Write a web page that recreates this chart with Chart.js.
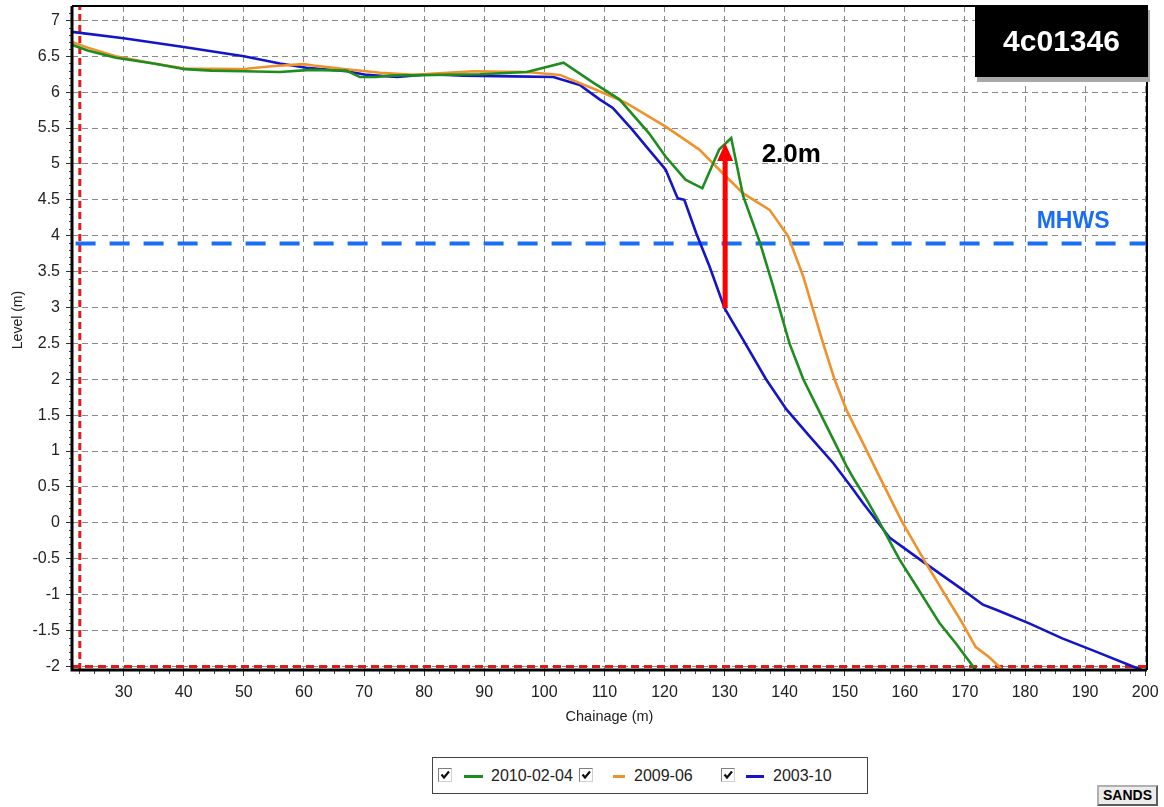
<!DOCTYPE html>
<html lang="en">
  <head>
    <meta charset="UTF-8" />
    <title>4c01346 beach profile</title>
    <script src="https://cdn.jsdelivr.net/npm/chart.js"></script>
    <style>
      body {
        margin: 0;
        background: #ffffff;
        font-family: "Liberation Sans", Arial, sans-serif;
      }
      .wrap {
        position: relative;
        width: 1164px;
        height: 807px;
      }
      canvas {
        display: block;
      }
      .profile-id {
        position: absolute;
        left: 975px;
        top: 5px;
        width: 173px;
        height: 72px;
        background: #000;
        color: #fff;
        font: bold 30px "Liberation Sans", Arial, sans-serif;
        line-height: 72px;
        text-align: center;
        box-shadow: 2px 5px 0 #a8a8a8;
      }
      .legend {
        position: absolute;
        left: 432px;
        top: 757px;
        width: 434px;
        height: 35px;
        border: 1px solid #444;
        background: #fff;
        font-size: 16px;
        color: #222;
      }
      .legend span {
        position: absolute;
      }
      .legend .cb {
        top: 10px;
        width: 12px;
        height: 12px;
        border: 1px solid #808080;
        border-right-color: #d0d0d0;
        border-bottom-color: #d0d0d0;
        background: #fff;
      }
      .legend .cb svg {
        display: block;
      }
      .legend .ln {
        top: 17px;
        height: 3px;
      }
      .legend .tx {
        top: 8px;
        line-height: 19px;
      }
      .sands {
        position: absolute;
        left: 1097px;
        top: 785px;
        width: 57px;
        height: 17px;
        border: 2px outset #b0b0b0;
        background: #ececec;
        font: bold 14px "Liberation Sans", Arial, sans-serif;
        line-height: 17px;
        text-align: center;
      }
    </style>
  </head>
  <body>
    <div class="wrap">
      <canvas id="profileChart" width="1164" height="807"></canvas>
      <div class="profile-id">4c01346</div>
      <div class="legend" id="legend"></div>
      <div class="sands">SANDS</div>
    </div>

    <script>
      const xTicks = [30, 40, 50, 60, 70, 80, 90, 100, 110, 120, 130, 140, 150, 160, 170, 180, 190, 200];
      const yTicks = [-2, -1.5, -1, -0.5, 0, 0.5, 1, 1.5, 2, 2.5, 3, 3.5, 4, 4.5, 5, 5.5, 6, 6.5, 7];

      const seriesNames = ["2010-02-04", "2009-06", "2003-10"];
      const seriesColors = ["#1e8c1e", "#f0922c", "#1414c8"];

      // 2010-02-04
      const chainage2010 = [21.4, 24, 28.7, 35, 40.2, 44.6, 50, 56, 61.1, 67.1, 69.3, 72, 74.3, 89.3, 97.1, 103.2,
        108, 112.5, 117.4, 120.2, 123.5, 126.3, 129.1, 131.1, 133.1, 135.9, 138.1, 140.8, 143.1, 145.3, 148.1,
        150.3, 151.6, 153.6, 155.7, 159.1, 161.9, 165.8, 168.5, 171.8];
      const level2010 = [6.66, 6.58, 6.48, 6.4, 6.32, 6.3, 6.29, 6.28, 6.31, 6.3, 6.21, 6.21, 6.23, 6.25, 6.28, 6.41,
        6.14, 5.9, 5.43, 5.1, 4.78, 4.66, 5.2, 5.36, 4.55, 3.9, 3.29, 2.5, 2.0, 1.63, 1.16,
        0.79, 0.6, 0.33, 0.02, -0.51, -0.88, -1.4, -1.68, -2.05];

      // 2009-06
      const chainage2009 = [21.4, 24, 28.7, 35, 40.2, 49.6, 54.6, 59.9, 61.6, 67.1, 72.7, 78.2, 88.2, 97.1, 102.6,
        108.7, 113.6, 120.2, 125.8, 129.7, 133.1, 137.5, 140.6, 143.1, 146.4, 148.3, 150.3, 153.1, 155.8,
        159.5, 163.5, 166.9, 169.6, 171.8, 174, 176.3];
      const level2009 = [6.7, 6.62, 6.5, 6.4, 6.33, 6.32, 6.36, 6.39, 6.37, 6.32, 6.27, 6.24, 6.29, 6.28, 6.24,
        6.03, 5.85, 5.52, 5.2, 4.87, 4.59, 4.36, 3.99, 3.43, 2.5, 2.0, 1.57, 1.1, 0.64,
        0.02, -0.56, -1.03, -1.4, -1.73, -1.87, -2.05];

      // 2003-10
      const chainage2003 = [21.4, 30, 40, 50, 56, 60.4, 67.1, 70.5, 75.5, 81, 86.6, 94.9, 101.5, 105.9, 109.2,
        111.4, 114.6, 117.4, 120.2, 122.2, 123.3, 125.3, 127.5, 130, 131.1, 133.1, 136.9, 140.3, 144.2,
        148.1, 151, 153, 155.3, 157.5, 163, 169.6, 173, 175.2, 180.7, 186.2, 191.7, 199.4];
      const level2003 = [6.84, 6.75, 6.63, 6.5, 6.4, 6.34, 6.29, 6.24, 6.21, 6.25, 6.23, 6.22, 6.21, 6.1, 5.9,
        5.78, 5.48, 5.2, 4.92, 4.52, 4.5, 4.03, 3.57, 2.99, 2.83, 2.55, 2.0, 1.58, 1.2,
        0.83, 0.51, 0.28, 0.03, -0.21, -0.54, -0.93, -1.14, -1.21, -1.4, -1.61, -1.79, -2.05];

      // reference lines
      const mhwsLevel = 3.89;
      const mhwsRange = [22, 200.3];
      const redVerticalChainage = 22.7;
      const redHorizontalLevel = -2;
      const arrowChainage = 130.1;
      const arrowLevels = [2.99, 5.29];
      const arrowLabel = { text: "2.0m", x: 141.1, y: 5.12 };
      const mhwsLabel = { text: "MHWS", x: 188, y: 4.19 };

      const xMin = 21.4, xMax = 200.3, yMin = -2.05, yMax = 7.2;

      function points(xs, ys) {
        return xs.map((x, i) => ({ x: x, y: ys[i] }));
      }

      const profiles = [
        points(chainage2010, level2010),
        points(chainage2009, level2009),
        points(chainage2003, level2003),
      ];

      const datasets = profiles.map((data, i) => ({
        label: seriesNames[i],
        data: data,
        borderColor: seriesColors[i],
        borderWidth: 2.6,
      }));
      datasets.push({
        label: "MHWS",
        data: points(mhwsRange, [mhwsLevel, mhwsLevel]),
        borderColor: "#1a6ef5",
        borderWidth: 4,
        borderDash: [20, 14],
      });
      datasets.push({
        label: "redV",
        data: points([redVerticalChainage, redVerticalChainage], [yMin, yMax]),
        borderColor: "#dd1c1c",
        borderWidth: 3,
        borderDash: [7, 4],
      });
      datasets.push({
        label: "redH",
        data: points([xMin, xMax], [redHorizontalLevel, redHorizontalLevel]),
        borderColor: "#dd1c1c",
        borderWidth: 3,
        borderDash: [8, 5],
      });

      const font = "Liberation Sans, Arial, sans-serif";

      const decorations = {
        id: "decorations",
        afterDatasetsDraw(chart) {
          const { ctx, scales } = chart;
          const x = scales.x, y = scales.y;
          // arrow
          const ax = x.getPixelForValue(arrowChainage);
          const y0 = y.getPixelForValue(arrowLevels[0]);
          const tip = y.getPixelForValue(arrowLevels[1]);
          ctx.save();
          ctx.strokeStyle = "#ff0000";
          ctx.fillStyle = "#ff0000";
          ctx.lineWidth = 5;
          ctx.beginPath();
          ctx.moveTo(ax, y0);
          ctx.lineTo(ax, tip + 16);
          ctx.stroke();
          ctx.beginPath();
          ctx.moveTo(ax, tip);
          ctx.lineTo(ax - 8, tip + 18);
          ctx.lineTo(ax + 8, tip + 18);
          ctx.closePath();
          ctx.fill();
          // labels
          ctx.textAlign = "center";
          ctx.textBaseline = "middle";
          ctx.fillStyle = "#000";
          ctx.font = "bold 26px " + font;
          ctx.fillText(arrowLabel.text, x.getPixelForValue(arrowLabel.x), y.getPixelForValue(arrowLabel.y));
          ctx.fillStyle = "#1a6ef5";
          ctx.font = "bold 23px " + font;
          ctx.fillText(mhwsLabel.text, x.getPixelForValue(mhwsLabel.x), y.getPixelForValue(mhwsLabel.y));
          ctx.restore();
        },
        afterDraw(chart) {
          const { ctx, chartArea: a, scales } = chart;
          ctx.save();
          // minor ticks
          ctx.strokeStyle = "#444";
          ctx.lineWidth = 1;
          ctx.beginPath();
          for (let v = 22.5; v <= xMax; v += 2.5) {
            if (v % 10 === 0) continue;
            const px = Math.round(scales.x.getPixelForValue(v)) + 0.5;
            ctx.moveTo(px, a.bottom);
            ctx.lineTo(px, a.bottom + 4);
          }
          for (let k = -20; k <= 71; k++) {
            if (k % 5 === 0) continue;
            const py = Math.round(scales.y.getPixelForValue(k / 10)) + 0.5;
            ctx.moveTo(a.left - 3, py);
            ctx.lineTo(a.left, py);
          }
          ctx.stroke();
          // frame
          ctx.strokeStyle = "#000";
          ctx.lineWidth = 2;
          ctx.beginPath();
          ctx.moveTo(a.left, a.top);
          ctx.lineTo(a.right, a.top);
          ctx.lineTo(a.right, a.bottom);
          ctx.stroke();
          ctx.lineWidth = 3;
          ctx.beginPath();
          ctx.moveTo(a.left, a.top);
          ctx.lineTo(a.left, a.bottom);
          ctx.lineTo(a.right, a.bottom);
          ctx.stroke();
          // y title
          ctx.translate(18, 320);
          ctx.rotate(-Math.PI / 2);
          ctx.fillStyle = "#222";
          ctx.font = "14px " + font;
          ctx.textAlign = "center";
          ctx.textBaseline = "middle";
          ctx.fillText("Level (m)", 0, 0);
          ctx.restore();
        },
      };

      const ctx = document.getElementById("profileChart").getContext("2d");
      const profileChart = new Chart(ctx, {
        type: "line",
        data: { datasets: datasets },
        options: {
          responsive: false,
          animation: false,
          events: [],
          elements: {
            point: { radius: 0 },
            line: { tension: 0, borderCapStyle: "butt" },
          },
          layout: { padding: { top: 6, right: 17, left: 0, bottom: 0 } },
          scales: {
            x: {
              type: "linear",
              min: xMin,
              max: xMax,
              afterBuildTicks: (s) => { s.ticks = xTicks.map((v) => ({ value: v })); },
              afterFit: (s) => { s.height = 137; s.paddingRight = 0; },
              grid: { color: "#8a8a8a", tickColor: "#333", tickLength: 6 },
              border: { display: false, dash: [6, 4] },
              ticks: {
                color: "#222",
                font: { family: font, size: 16 },
                padding: 7,
                maxRotation: 0,
                autoSkip: false,
                callback: (v) => String(v),
              },
              title: {
                display: true,
                text: "Chainage (m)",
                color: "#222",
                font: { family: font, size: 14.5 },
                padding: { top: 0, bottom: 81 },
              },
            },
            y: {
              type: "linear",
              min: yMin,
              max: yMax,
              afterBuildTicks: (s) => { s.ticks = yTicks.map((v) => ({ value: v })); },
              afterFit: (s) => { s.width = 72; s.paddingTop = 0; s.paddingBottom = 0; },
              grid: { color: "#8a8a8a", tickColor: "#333", tickLength: 6 },
              border: { display: false, dash: [6, 4] },
              ticks: {
                color: "#222",
                font: { family: font, size: 16 },
                padding: 6,
                autoSkip: false,
                callback: (v) => String(v),
              },
            },
          },
          plugins: {
            legend: { display: false },
            tooltip: { enabled: false },
          },
        },
        plugins: [decorations],
      });

      // legend box below the chart
      const legend = document.getElementById("legend");
      const cbLeft = [5, 146, 288];
      const lnLeft = [31, 180, 313];
      const lnWidth = [19, 12, 18];
      const txLeft = [58, 201, 340];
      const check = '<svg width="12" height="12" viewBox="0 0 12 12"><polyline points="2.5,5.5 5,8.5 10,2.5" fill="none" stroke="#111" stroke-width="2.2"/></svg>';
      seriesNames.forEach((name, i) => {
        legend.insertAdjacentHTML(
          "beforeend",
          '<span class="cb" style="left:' + cbLeft[i] + 'px">' + check + "</span>" +
          '<span class="ln" style="left:' + lnLeft[i] + "px;width:" + lnWidth[i] + "px;background:" + seriesColors[i] + '"></span>' +
          '<span class="tx" style="left:' + txLeft[i] + 'px">' + name + "</span>"
        );
      });
    </script>
  </body>
</html>
